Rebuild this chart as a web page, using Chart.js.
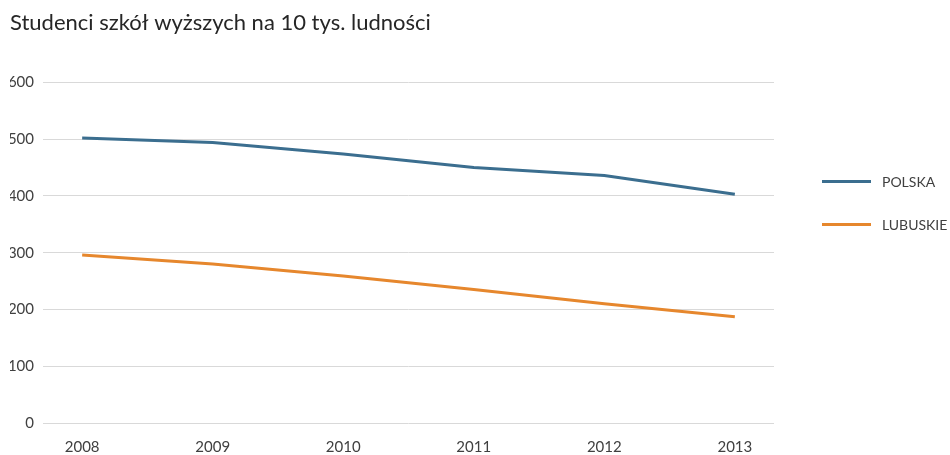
<!DOCTYPE html>
<html>
<head>
<meta charset="utf-8">
<script src="https://cdn.jsdelivr.net/npm/chart.js@4"></script>
<style>
  html, body { margin: 0; padding: 0; background: #fff; }
</style>
</head>
<body>
<canvas id="chart" width="950" height="455"></canvas>
<script>
  var years = [2008, 2009, 2010, 2011, 2012, 2013];
  var polska = [502, 494, 474, 450, 436, 403];
  var lubuskie = [296, 280, 259, 235, 210, 187];
  var yTicks = [0, 100, 200, 300, 400, 500, 600];

  var textColor = "#404040";
  var fontFamily = "Lato, 'Open Sans', sans-serif";

  function points(values) {
    return years.map(function (y, i) { return { x: y, y: values[i] }; });
  }

  // legend drawn to the right of the plot, like the original
  var sideLegend = {
    id: "sideLegend",
    afterDraw: function (chart) {
      var ctx = chart.ctx;
      var area = chart.chartArea;
      var x0 = area.right + 48;
      var y0 = area.top + 99;
      ctx.save();
      ctx.font = "14px " + fontFamily;
      ctx.textBaseline = "middle";
      chart.data.datasets.forEach(function (ds, i) {
        var y = y0 + i * 43;
        ctx.strokeStyle = ds.borderColor;
        ctx.lineWidth = 3;
        ctx.beginPath();
        ctx.moveTo(x0, y);
        ctx.lineTo(x0 + 49, y);
        ctx.stroke();
        ctx.fillStyle = textColor;
        ctx.fillText(ds.label, x0 + 60, y + 1);
      });
      ctx.restore();
    }
  };

  new Chart(document.getElementById("chart"), {
    type: "line",
    data: {
      datasets: [
        { label: "POLSKA", data: points(polska), borderColor: "#3b6e8f", borderWidth: 3, pointRadius: 0, tension: 0 },
        { label: "LUBUSKIE", data: points(lubuskie), borderColor: "#e6872d", borderWidth: 3, pointRadius: 0, tension: 0 }
      ]
    },
    options: {
      responsive: false,
      animation: false,
      layout: { padding: { left: 10, right: 176, top: 0, bottom: 0 } },
      plugins: {
        legend: { display: false },
        tooltip: { enabled: false },
        title: {
          display: true,
          text: "Studenci szkół wyższych na 10 tys. ludności",
          align: "start",
          color: "#262626",
          font: { family: fontFamily, size: 22, weight: "normal" },
          padding: { top: 10, bottom: 46 }
        }
      },
      scales: {
        x: {
          type: "linear",
          min: years[0] - 0.3,
          max: years[years.length - 1] + 0.3,
          afterBuildTicks: function (scale) {
            scale.ticks = years.map(function (v) { return { value: v }; });
          },
          afterFit: function (scale) { scale.height = 32; },
          ticks: {
            color: textColor,
            font: { family: fontFamily, size: 15 },
            padding: 7,
            maxRotation: 0,
            callback: function (v) { return String(v); }
          },
          grid: { display: false },
          border: { display: false }
        },
        y: {
          min: 0,
          max: 600,
          afterBuildTicks: function (scale) {
            scale.ticks = yTicks.map(function (v) { return { value: v }; });
          },
          afterFit: function (scale) { scale.width = 33; },
          ticks: {
            color: textColor,
            font: { family: fontFamily, size: 15 },
            padding: 9
          },
          grid: { color: "#d9d9d9", lineWidth: 1, drawTicks: false },
          border: { display: false }
        }
      }
    },
    plugins: [sideLegend]
  });
</script>
</body>
</html>
